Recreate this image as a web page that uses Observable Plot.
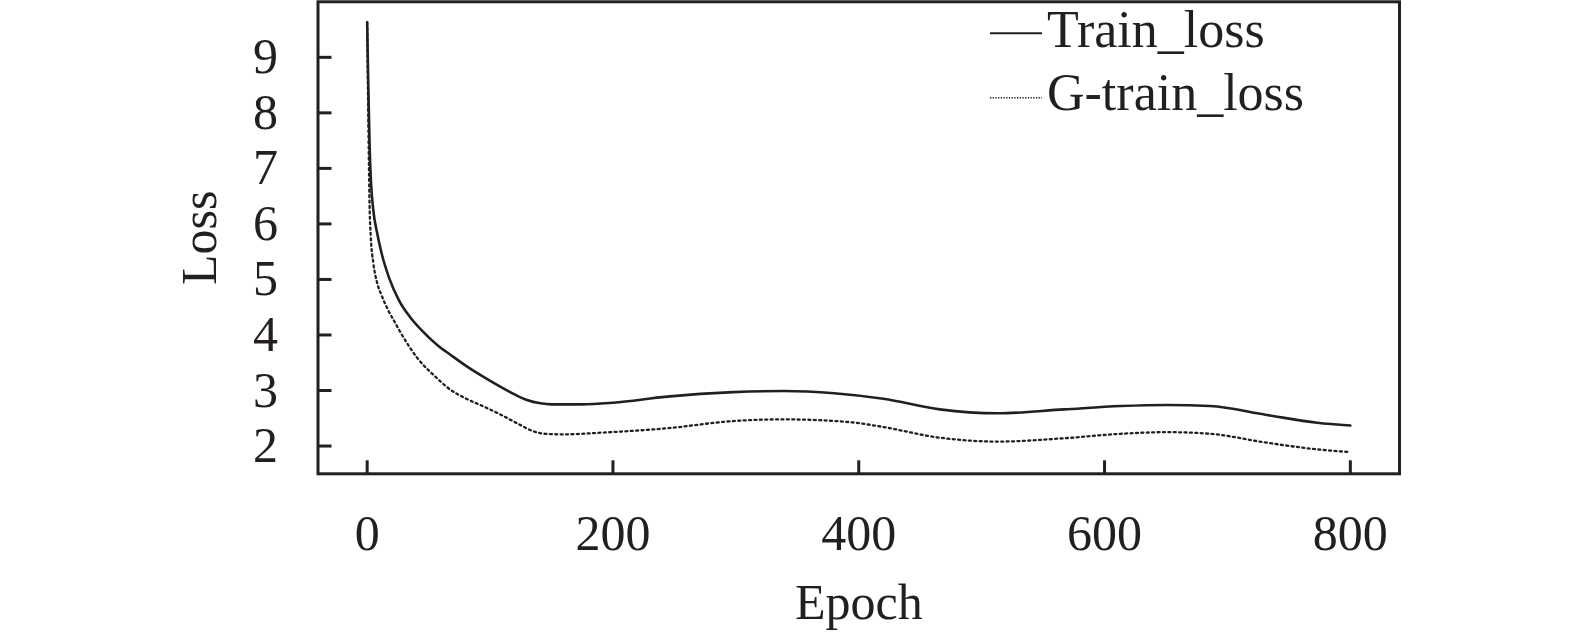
<!DOCTYPE html>
<html>
<head>
<meta charset="utf-8">
<script src="https://cdn.jsdelivr.net/npm/d3@7"></script>
<script src="https://cdn.jsdelivr.net/npm/@observablehq/plot@0.6"></script>
<style>
  html, body { margin: 0; padding: 0; background: white; }
  #chart { position: relative; width: 1575px; height: 636px; }
</style>
</head>
<body>
<div id="chart"></div>
<script>
// ---- data ----
const trainEpochs = [0,1,2,3,5,8,12,18,26,35,45,57,68,82,95,109,120,130,141,150,175,200,244,298,339,380,420,466,513,567,613,651,686,732,773,800];
const trainLoss   = [9.63,8.4,7.4,6.8,6.25,5.85,5.45,5.02,4.62,4.32,4.07,3.82,3.64,3.42,3.24,3.06,2.93,2.83,2.77,2.75,2.75,2.78,2.89,2.97,2.99,2.95,2.85,2.66,2.59,2.66,2.72,2.74,2.72,2.56,2.42,2.37];

const gEpochs = [0,1,2,3,5,8,12,17,22,27,34,41,55,68,80,95,110,122,136,145,160,190,244,298,339,393,418,466,513,567,613,651,686,732,773,800];
const gLoss   = [9.63,7.8,6.3,5.75,5.3,4.95,4.7,4.45,4.25,4.05,3.8,3.58,3.26,3.01,2.86,2.71,2.55,2.41,2.26,2.22,2.21,2.24,2.32,2.45,2.48,2.43,2.35,2.15,2.08,2.14,2.22,2.25,2.22,2.06,1.94,1.89];

const xTicks = [0, 200, 400, 600, 800];
const yTicks = [2, 3, 4, 5, 6, 7, 8, 9];
const seriesNames = ["Train_loss", "G-train_loss"];
const xLabel = "Epoch";
const yLabel = "Loss";

// ---- build tables ----
const trainData = trainEpochs.map((e, i) => ({epoch: e, loss: trainLoss[i]}));
const gData = gEpochs.map((e, i) => ({epoch: e, loss: gLoss[i]}));

const W = 1575, H = 636;
const mL = 317.5, mR = 176, mT = 1.3, mB = 162.7;
const plotW = W - mL - mR, plotH = H - mT - mB;
const ink = "#231f20";
const font = "'Liberation Serif', 'Times New Roman', serif";

const svg = Plot.plot({
  width: W, height: H,
  marginLeft: mL, marginRight: mR, marginTop: mT, marginBottom: mB,
  style: {fontFamily: font, fontSize: "50px", color: ink, background: "white", overflow: "visible"},
  x: {domain: [-40, 840]},
  y: {domain: [1.5, 10]},
  marks: [
    Plot.line(gData, {x: "epoch", y: "loss", stroke: ink, strokeWidth: 2.3, strokeDasharray: "2,3.4", curve: "monotone-x"}),
    Plot.line(trainData, {x: "epoch", y: "loss", stroke: ink, strokeWidth: 2.6, curve: "monotone-x"}),
    Plot.tickY(yTicks, {y: d => d, stroke: ink, strokeWidth: 3, insetRight: plotW - 14}),
    Plot.tickX(xTicks, {x: d => d, stroke: ink, strokeWidth: 3, insetTop: plotH - 13}),
    Plot.axisY(yTicks, {tickSize: 0, tickPadding: 40, fontSize: 50, fill: ink, tickFormat: d => String(d),
      label: yLabel, labelAnchor: "center", labelOffset: 138, labelArrow: "none"}),
    Plot.axisX(xTicks, {tickSize: 0, tickPadding: 41, fontSize: 50, fill: ink, tickFormat: d => String(d),
      label: xLabel, labelAnchor: "center", labelOffset: 145, labelArrow: "none"}),
    Plot.frame({stroke: ink, strokeWidth: 3})
  ]
});

document.getElementById("chart").appendChild(svg);

// ---- legend inside the frame ----
const g = d3.select(svg).append("g").attr("class", "legend").attr("text-anchor", "start");
const rows = [
  {name: seriesNames[0], lineY: 33.3, textY: 46.7, dash: null, sw: 2},
  {name: seriesNames[1], lineY: 97.7, textY: 110, dash: "1.3,1.4", sw: 1.6}
];
rows.forEach(r => {
  g.append("line")
    .attr("x1", 990).attr("x2", 1042)
    .attr("y1", r.lineY).attr("y2", r.lineY)
    .attr("stroke", ink).attr("stroke-width", r.sw)
    .attr("stroke-dasharray", r.dash);
  g.append("text")
    .attr("x", 1047).attr("y", r.textY)
    .attr("fill", ink)
    .attr("text-anchor", "start")
    .style("font-family", font)
    .style("font-size", "52px")
    .text(r.name);
});
</script>
</body>
</html>
